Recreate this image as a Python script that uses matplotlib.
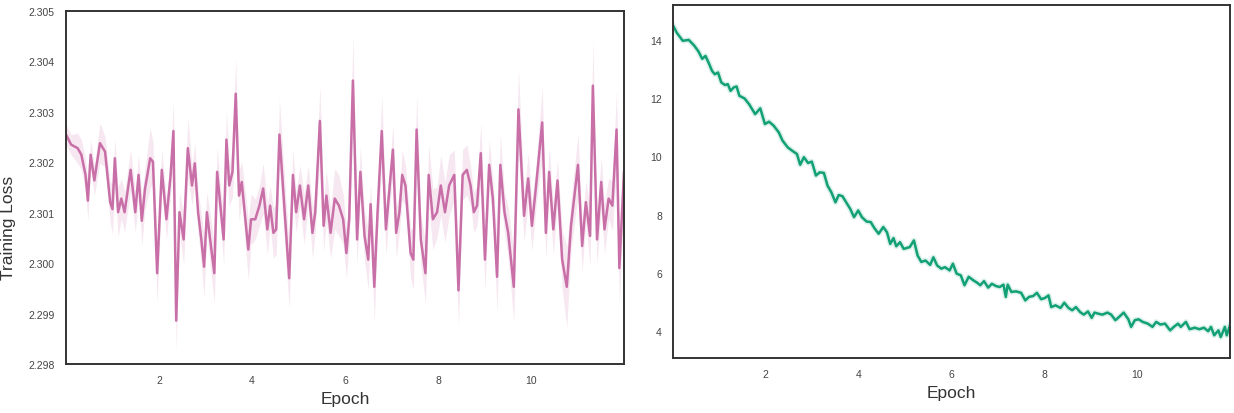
import numpy as np
import matplotlib
matplotlib.use("Agg")
import matplotlib.pyplot as plt

# ---------------- data ----------------
loss_epoch = [0.00, 0.11, 0.25, 0.33, 0.42, 0.47, 0.53, 0.61, 0.73, 0.84,
              0.95, 1.00, 1.05, 1.12, 1.19, 1.26, 1.39, 1.49, 1.56, 1.63,
              1.70, 1.81, 1.87, 1.96, 2.06, 2.16, 2.25, 2.31, 2.37, 2.44,
              2.53, 2.62, 2.71, 2.77, 2.84, 2.91, 2.97, 3.03, 3.10, 3.19,
              3.25, 3.32, 3.39, 3.45, 3.51, 3.58, 3.65, 3.72, 3.78, 3.85,
              3.92, 3.98, 4.07, 4.16, 4.24, 4.33, 4.39, 4.46, 4.52, 4.59,
              4.80, 4.88, 4.95, 5.03, 5.12, 5.21, 5.30, 5.36, 5.46, 5.54,
              5.60, 5.69, 5.78, 5.87, 5.96, 6.03, 6.09, 6.17, 6.26, 6.33,
              6.42, 6.50, 6.55, 6.63, 6.70, 6.79, 6.88, 6.97, 7.03, 7.10,
              7.17, 7.23, 7.30, 7.41, 7.47, 7.54, 7.63, 7.73, 7.80, 7.89,
              7.98, 8.06, 8.15, 8.24, 8.35, 8.44, 8.53, 8.62, 8.70, 8.77,
              8.84, 8.92, 9.01, 9.10, 9.18, 9.27, 9.34, 9.43, 9.51, 9.63,
              9.73, 9.85, 9.94, 10.02, 10.11, 10.24, 10.32, 10.39, 10.48, 10.57,
              10.67, 10.77, 10.86, 11.01, 11.10, 11.18, 11.27, 11.33, 11.42, 11.51,
              11.58, 11.67, 11.75, 11.84, 11.90, 12.00]
loss_mean = [2.30255, 2.30235, 2.30228, 2.30215, 2.30175, 2.30124, 2.30215, 2.30164, 2.30238, 2.30221,
             2.30121, 2.30107, 2.30208, 2.30101, 2.30128, 2.30101, 2.30185, 2.30101, 2.30175, 2.30084,
             2.30148, 2.30208, 2.30201, 2.29980, 2.30185, 2.30087, 2.30175, 2.30262, 2.29886, 2.30101,
             2.30047, 2.30228, 2.30154, 2.30198, 2.30101, 2.30047, 2.29993, 2.30101, 2.30047, 2.29980,
             2.30181, 2.30114, 2.30047, 2.30245, 2.30154, 2.30181, 2.30336, 2.30134, 2.30161, 2.30094,
             2.30027, 2.30087, 2.30087, 2.30114, 2.30148, 2.30067, 2.30114, 2.30060, 2.30067, 2.30255,
             2.29970, 2.30175, 2.30101, 2.30154, 2.30087, 2.30154, 2.30060, 2.30101, 2.30282, 2.30074,
             2.30134, 2.30060, 2.30128, 2.30114, 2.30087, 2.30020, 2.30087, 2.30362, 2.30047, 2.30181,
             2.30054, 2.30007, 2.30117, 2.29953, 2.30101, 2.30262, 2.30067, 2.30161, 2.30225, 2.30060,
             2.30101, 2.30175, 2.30154, 2.30020, 2.30007, 2.30265, 2.30047, 2.29980, 2.30175, 2.30087,
             2.30101, 2.30154, 2.30101, 2.30154, 2.30175, 2.29946, 2.30175, 2.30185, 2.30154, 2.30101,
             2.30114, 2.30218, 2.30007, 2.30195, 2.30128, 2.29973, 2.30195, 2.30101, 2.30060, 2.29953,
             2.30305, 2.30094, 2.30168, 2.30074, 2.30154, 2.30279, 2.30060, 2.30181, 2.30067, 2.30164,
             2.30007, 2.29953, 2.30074, 2.30195, 2.30034, 2.30121, 2.30054, 2.30352, 2.30047, 2.30161,
             2.30067, 2.30128, 2.30114, 2.30265, 2.29990, 2.30181]
loss_spread = [0.0002, 0.0002, 0.0003, 0.0003, 0.0003, 0.0004, 0.0003, 0.0003, 0.0004, 0.0003,
               0.0004, 0.0005, 0.0004, 0.0005, 0.0004, 0.0004, 0.0004, 0.0004, 0.0004, 0.0005,
               0.0004, 0.0006, 0.0004, 0.0006, 0.0004, 0.0004, 0.0004, 0.0006, 0.0006, 0.0004,
               0.0005, 0.0006, 0.0004, 0.0004, 0.0004, 0.0005, 0.0006, 0.0004, 0.0005, 0.0006,
               0.0005, 0.0004, 0.0005, 0.0006, 0.0004, 0.0005, 0.0007, 0.0005, 0.0004, 0.0005,
               0.0006, 0.0005, 0.0004, 0.0004, 0.0005, 0.0005, 0.0004, 0.0005, 0.0005, 0.0007,
               0.0006, 0.0005, 0.0004, 0.0004, 0.0005, 0.0004, 0.0005, 0.0004, 0.0007, 0.0005,
               0.0005, 0.0005, 0.0006, 0.0006, 0.0005, 0.0005, 0.0005, 0.0009, 0.0005, 0.0005,
               0.0005, 0.0006, 0.0004, 0.0007, 0.0004, 0.0007, 0.0005, 0.0004, 0.0005, 0.0005,
               0.0004, 0.0005, 0.0004, 0.0005, 0.0006, 0.0007, 0.0005, 0.0006, 0.0006, 0.0006,
               0.0005, 0.0006, 0.0006, 0.0006, 0.0005, 0.0007, 0.0005, 0.0005, 0.0004, 0.0004,
               0.0004, 0.0006, 0.0006, 0.0005, 0.0004, 0.0007, 0.0006, 0.0004, 0.0005, 0.0007,
               0.0008, 0.0005, 0.0005, 0.0005, 0.0004, 0.0007, 0.0005, 0.0005, 0.0005, 0.0004,
               0.0006, 0.0008, 0.0005, 0.0006, 0.0005, 0.0004, 0.0006, 0.0009, 0.0005, 0.0005,
               0.0005, 0.0004, 0.0005, 0.0008, 0.0007, 0.0005]

dec_epoch = [0.00, 0.08, 0.21, 0.34, 0.46, 0.55, 0.63, 0.70, 0.78, 0.84,
             0.90, 0.97, 1.04, 1.12, 1.18, 1.24, 1.31, 1.37, 1.43, 1.54,
             1.64, 1.77, 1.88, 1.98, 2.07, 2.17, 2.28, 2.36, 2.47, 2.57,
             2.67, 2.74, 2.82, 2.91, 2.99, 3.08, 3.16, 3.25, 3.33, 3.41,
             3.50, 3.57, 3.65, 3.74, 3.82, 3.90, 3.99, 4.07, 4.17, 4.26,
             4.34, 4.43, 4.53, 4.61, 4.68, 4.75, 4.81, 4.89, 4.97, 5.10,
             5.19, 5.27, 5.35, 5.44, 5.54, 5.61, 5.69, 5.78, 5.86, 5.96,
             6.03, 6.11, 6.20, 6.28, 6.37, 6.47, 6.55, 6.62, 6.70, 6.79,
             6.87, 6.96, 7.04, 7.12, 7.17, 7.21, 7.29, 7.39, 7.50, 7.59,
             7.67, 7.76, 7.84, 7.93, 8.01, 8.09, 8.15, 8.24, 8.35, 8.43,
             8.52, 8.60, 8.68, 8.77, 8.85, 8.94, 9.02, 9.08, 9.17, 9.25,
             9.36, 9.44, 9.53, 9.61, 9.71, 9.81, 9.87, 9.95, 10.03, 10.12,
             10.23, 10.33, 10.41, 10.50, 10.60, 10.71, 10.79, 10.88, 10.94, 11.05,
             11.13, 11.24, 11.34, 11.44, 11.53, 11.59, 11.66, 11.75, 11.80, 11.89,
             11.93, 12.00]
dec_value = [14.50, 14.25, 13.97, 14.00, 13.80, 13.60, 13.35, 13.45, 13.17, 12.94,
             12.82, 12.88, 12.54, 12.45, 12.48, 12.25, 12.37, 12.40, 12.08, 11.99,
             11.79, 11.45, 11.65, 11.11, 11.19, 11.05, 10.82, 10.54, 10.31, 10.19,
             10.08, 9.71, 9.97, 9.77, 9.82, 9.34, 9.45, 9.43, 8.99, 8.77,
             8.42, 8.67, 8.63, 8.40, 8.19, 7.91, 8.14, 7.91, 7.76, 7.74,
             7.53, 7.34, 7.57, 7.39, 6.99, 7.19, 6.91, 7.05, 6.82, 6.88,
             7.11, 6.59, 6.37, 6.42, 6.27, 6.53, 6.25, 6.14, 6.19, 6.08,
             6.31, 5.97, 5.91, 5.57, 5.86, 5.74, 5.66, 5.57, 5.71, 5.49,
             5.62, 5.54, 5.51, 5.59, 5.17, 5.59, 5.34, 5.36, 5.31, 5.05,
             5.17, 5.20, 5.31, 5.09, 5.13, 5.22, 4.82, 4.88, 4.79, 4.97,
             4.79, 4.71, 4.82, 4.65, 4.56, 4.67, 4.45, 4.63, 4.59, 4.56,
             4.63, 4.56, 4.37, 4.48, 4.63, 4.40, 4.14, 4.37, 4.40, 4.31,
             4.25, 4.14, 4.31, 4.22, 4.25, 4.02, 4.14, 4.25, 4.14, 4.31,
             4.06, 4.11, 4.06, 4.11, 3.99, 4.14, 3.85, 4.02, 3.79, 4.14,
             3.85, 4.19]

x_ticks = [2, 4, 6, 8, 10]
left_yticks = [2.298, 2.299, 2.300, 2.301, 2.302, 2.303, 2.304, 2.305]
right_yticks = [4, 6, 8, 10, 12, 14]

# ---------------- style ----------------
plt.rcParams['font.family'] = ['Liberation Sans', 'DejaVu Sans']
pink = '#c96fa8'
green = '#12a075'
tick_color = '#444444'
W, H = 1234, 414
fig = plt.figure(figsize=(W / 100, H / 100), dpi=100)

axL = fig.add_axes([66 / W, 1 - 365 / H, (624 - 66) / W, (365 - 12) / H])
axR = fig.add_axes([673 / W, 1 - 359 / H, (1230 - 673) / W, (359 - 6) / H])

le = np.array(loss_epoch)
lm = np.array(loss_mean)
ls = np.array(loss_spread)
axL.fill_between(le, lm - ls, lm + ls, color=pink, alpha=0.16, linewidth=0)
axL.plot(le, lm, color=pink, lw=1.8)
axL.set_xlim(0, 12)
axL.set_ylim(2.298, 2.305)
axL.set_yticks(left_yticks)
axL.set_yticklabels([f"{v:.3f}" for v in left_yticks])

axR.plot(dec_epoch, dec_value, color=green, lw=4, alpha=0.15)
axR.plot(dec_epoch, dec_value, color=green, lw=1.8)
axR.set_xlim(0, 12)
axR.set_ylim(3.07, 15.2)
axR.set_yticks(right_yticks)

for ax in (axL, axR):
    ax.set_xticks(x_ticks)
    ax.tick_params(length=0, labelsize=7.5, labelcolor=tick_color, pad=8)
    for sp in ax.spines.values():
        sp.set_color('#333333')
        sp.set_linewidth(1.4)
    ax.set_xlabel('Epoch', fontsize=12.5, color='#333333', labelpad=4)

axL.set_ylabel('Training Loss', fontsize=12.5, color='#333333')
axL.yaxis.set_label_coords(-50 / 558, (365 - 228) / 353)

fig.savefig('out.png', dpi=100)
